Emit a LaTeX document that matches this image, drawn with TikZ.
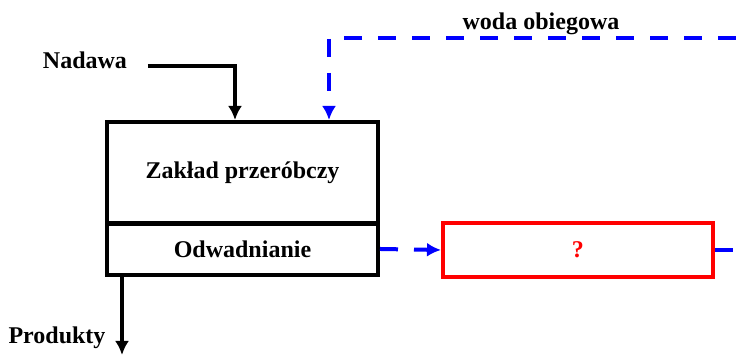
\documentclass[tikz,border=0pt]{standalone}
\usepackage{fontspec}
\setmainfont{Liberation Serif}
\usetikzlibrary{positioning, arrows.meta}

\tikzset{
	blok/.style = {draw, line width=2pt, rectangle, minimum width=135.5pt, inner sep=0pt, font=\fontsize{12}{14}\selectfont\bfseries},
	opis/.style = {font=\fontsize{12}{14}\selectfont\bfseries},
	strumien/.style = {line width=2pt, ->},
	woda/.style = {line width=2pt, blue, dash pattern=on 9pt off 8pt, ->},
}

\begin{document}
\begin{tikzpicture} [> = {Latex[length=7pt,width=7pt]}, x=0.5pt, y=0.5pt]
			\useasboundingbox (0,0) rectangle (736,356);
			
			% bloki
			\node [blok, minimum height=51pt] (zaklad) at (242.5,183) {Zak\l{}ad przer\'obczy};
			\node [blok, minimum height=26pt] (odw) at (242.5,107) {Odwadnianie};
			\node [blok, draw=red, text=red, minimum width=135pt, minimum height=27pt] (niew) at (578,106) {?};
			
			% opisy
			\node [opis] (nadawa) at (85,296) {Nadawa};
			\node [opis] (obieg) at (541,332) {woda obiegowa};
			\node [opis] (produkty) at (57,18) {Produkty};
			
			\coordinate (n0) at (148,290);
			\coordinate (w0) at (736,318);
			\coordinate (w1) at (736,106);
			\coordinate (p1) at (122,1);
			
			% strumienie
			\draw [strumien] (n0) -| ([xshift=-3.75pt]zaklad.north);
			\draw [strumien] (p1 |- odw.south) -- (p1);
			
			\draw [woda] (w0) -| ([xshift=43.25pt]zaklad.north);
			\draw [woda] (odw.east) -- (niew.west);
			\draw [woda, -] (niew.east) -- (w1);
		\end{tikzpicture}
\end{document}
